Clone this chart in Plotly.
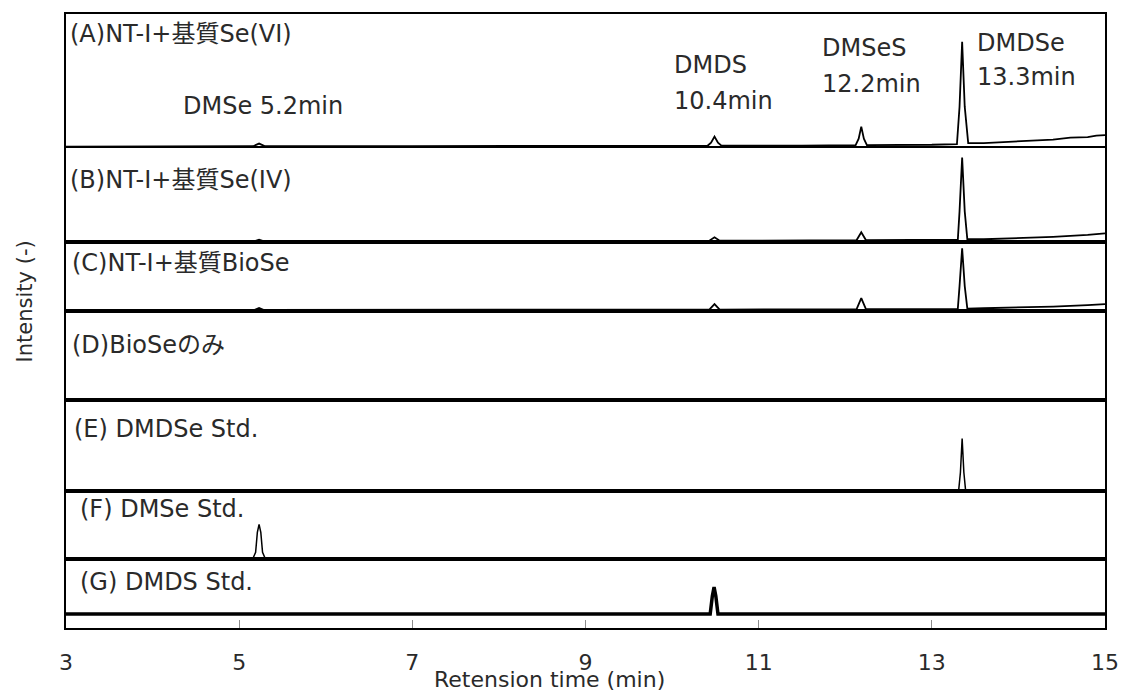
import plotly.graph_objects as go
from plotly.subplots import make_subplots

# ---------------- data (retention time in min, intensity in arbitrary units) ----------------
panel_labels = ["(A)NT-I+基質Se(VI)", "(B)NT-I+基質Se(IV)", "(C)NT-I+基質BioSe",
                "(D)BioSeのみ", "(E) DMDSe Std.", "(F) DMSe Std.", "(G) DMDS Std."]

A_time = [3.0, 4.0, 5.0, 5.16, 5.23, 5.30, 7.0, 9.0, 10.41, 10.45, 10.49, 10.53, 10.57, 11.5,
          12.12, 12.155, 12.185, 12.215, 12.25, 13.0, 13.29, 13.32, 13.35, 13.38, 13.42, 13.6,
          13.8, 14.0, 14.2, 14.4, 14.6, 14.8, 14.9, 15.0]
A_int = [0.0, 0.3, 0.2, 0.3, 3.0, 0.3, 0.5, 0.6, 0.8, 4.0, 10.0, 4.0, 1.0, 1.0,
         1.5, 8.0, 20.0, 8.0, 1.5, 1.8, 2.5, 40.0, 105.0, 40.0, 3.5, 3.5,
         4.5, 5.0, 6.5, 7.0, 9.0, 9.5, 11.0, 11.5]

B_time = [3.0, 5.0, 5.18, 5.23, 5.28, 8.0, 10.43, 10.49, 10.55, 12.13, 12.185, 12.24, 13.0,
          13.30, 13.32, 13.35, 13.38, 13.41, 13.6, 14.0, 14.4, 14.8, 15.0]
B_int = [0.0, 0.2, 0.2, 1.5, 0.2, 0.4, 0.6, 4.0, 0.6, 1.0, 9.0, 1.0, 1.2,
         1.5, 30.0, 84.0, 30.0, 2.0, 2.0, 3.0, 4.5, 6.5, 8.0]

C_time = [3.0, 5.0, 5.18, 5.23, 5.28, 8.0, 10.43, 10.49, 10.55, 12.13, 12.185, 12.24, 13.0,
          13.30, 13.32, 13.35, 13.38, 13.41, 13.6, 14.0, 14.4, 14.8, 15.0]
C_int = [0.0, 0.2, 0.2, 2.0, 0.2, 0.3, 0.5, 6.0, 0.5, 0.8, 12.0, 0.8, 1.0,
         1.2, 24.0, 62.0, 24.0, 1.5, 1.8, 2.5, 3.5, 5.0, 6.0]

D_time = [3.0, 7.0, 11.0, 15.0]
D_int = [0.0, 0.0, 0.0, 0.0]

E_time = [3.0, 13.31, 13.33, 13.35, 13.37, 13.39, 15.0]
E_int = [0.0, 0.0, 18.0, 52.0, 18.0, 0.0, 0.0]

F_time = [3.0, 5.16, 5.19, 5.21, 5.23, 5.25, 5.27, 5.30, 15.0]
F_int = [0.0, 0.0, 6.0, 26.0, 34.0, 26.0, 6.0, 0.0, 0.0]

G_time = [3.0, 10.44, 10.465, 10.485, 10.505, 10.53, 15.0]
G_int = [0.0, 0.0, 18.0, 27.0, 18.0, 0.0, 0.0]

series_time = [A_time, B_time, C_time, D_time, E_time, F_time, G_time]
series_int = [A_int, B_int, C_int, D_int, E_int, F_int, G_int]

peak_labels = [["DMDS", "10.4min"], ["DMSeS", "12.2min"], ["DMDSe", "13.3min"]]
dmse_label = "DMSe 5.2min"
x_ticks = [3, 5, 7, 9, 11, 13, 15]

# ---------------- layout (pixels) ----------------
W, H = 1131, 694
L, R, T, B = 66, 1113, 12, 628
row_px = [134, 95, 69, 89, 92, 68, 69]
y_low = [-1, -1, -1, -1, -1, -1, -14]
line_w = [1.8, 1.8, 1.8, 1.5, 1.5, 1.5, 3.5]
FONT = "DejaVu Sans, Noto Sans CJK JP"
TXT = "#2a2a2a"


def px(x):
    return (x - L) / (R - L)


def py(y):
    return (B - y) / (B - T)


fig = make_subplots(rows=7, cols=1, shared_xaxes=True, vertical_spacing=0,
                    row_heights=row_px)

for i in range(7):
    fig.add_trace(go.Scatter(x=series_time[i], y=series_int[i], mode="lines",
                             line=dict(color="black", width=line_w[i]),
                             showlegend=False, hoverinfo="skip"),
                  row=i + 1, col=1)
    fig.update_yaxes(range=[y_low[i], y_low[i] + row_px[i]], showline=True, mirror=True,
                     linecolor="black", linewidth=1.5, showgrid=False, zeroline=False,
                     showticklabels=False, ticks="", row=i + 1, col=1)
    fig.update_xaxes(range=[3, 15], showline=True, mirror=True, linecolor="black",
                     linewidth=1.5, showgrid=False, zeroline=False, ticks="",
                     row=i + 1, col=1)

fig.update_xaxes(ticks="inside", ticklen=8, tickcolor="#8c8c8c", tickwidth=1,
                 tickvals=x_ticks, showticklabels=True, ticklabelstandoff=14,
                 tickfont=dict(family=FONT, size=22, color=TXT), row=7, col=1)

annos = []
label_pos = [(68, 32), (68, 179), (70, 262), (70, 344), (72, 428), (78, 509), (78, 582)]
for lab, (lx, ly) in zip(panel_labels, label_pos):
    annos.append(dict(text=lab, x=px(lx), y=py(ly), xref="paper", yref="paper",
                      xanchor="left", yanchor="middle", showarrow=False,
                      font=dict(family=FONT, size=24, color=TXT)))

annos.append(dict(text=dmse_label, x=px(182), y=py(104), xref="paper", yref="paper",
                  xanchor="left", yanchor="middle", showarrow=False,
                  font=dict(family=FONT, size=24, color=TXT)))

peak_pos = [(677, 63, 99), (826, 46, 82), (982, 41, 75)]
for (l1, l2), (lx, y1, y2) in zip(peak_labels, peak_pos):
    for t, yy in ((l1, y1), (l2, y2)):
        annos.append(dict(text=t, x=px(lx), y=py(yy), xref="paper", yref="paper",
                          xanchor="left", yanchor="middle", showarrow=False,
                          font=dict(family=FONT, size=24, color=TXT)))

annos.append(dict(text="Retension time (min)", x=px(553), y=py(680), xref="paper",
                  yref="paper", xanchor="center", yanchor="middle", showarrow=False,
                  font=dict(family=FONT, size=22, color=TXT)))
annos.append(dict(text="Intensity (-)", x=px(25), y=py(300), xref="paper",
                  yref="paper", xanchor="center", yanchor="middle", showarrow=False,
                  textangle=-90, font=dict(family=FONT, size=21, color=TXT)))

fig.update_layout(width=W, height=H, margin=dict(l=L, r=W - R, t=T, b=H - B),
                  paper_bgcolor="white", plot_bgcolor="white", annotations=annos,
                  showlegend=False)

fig.write_html("out.html")
